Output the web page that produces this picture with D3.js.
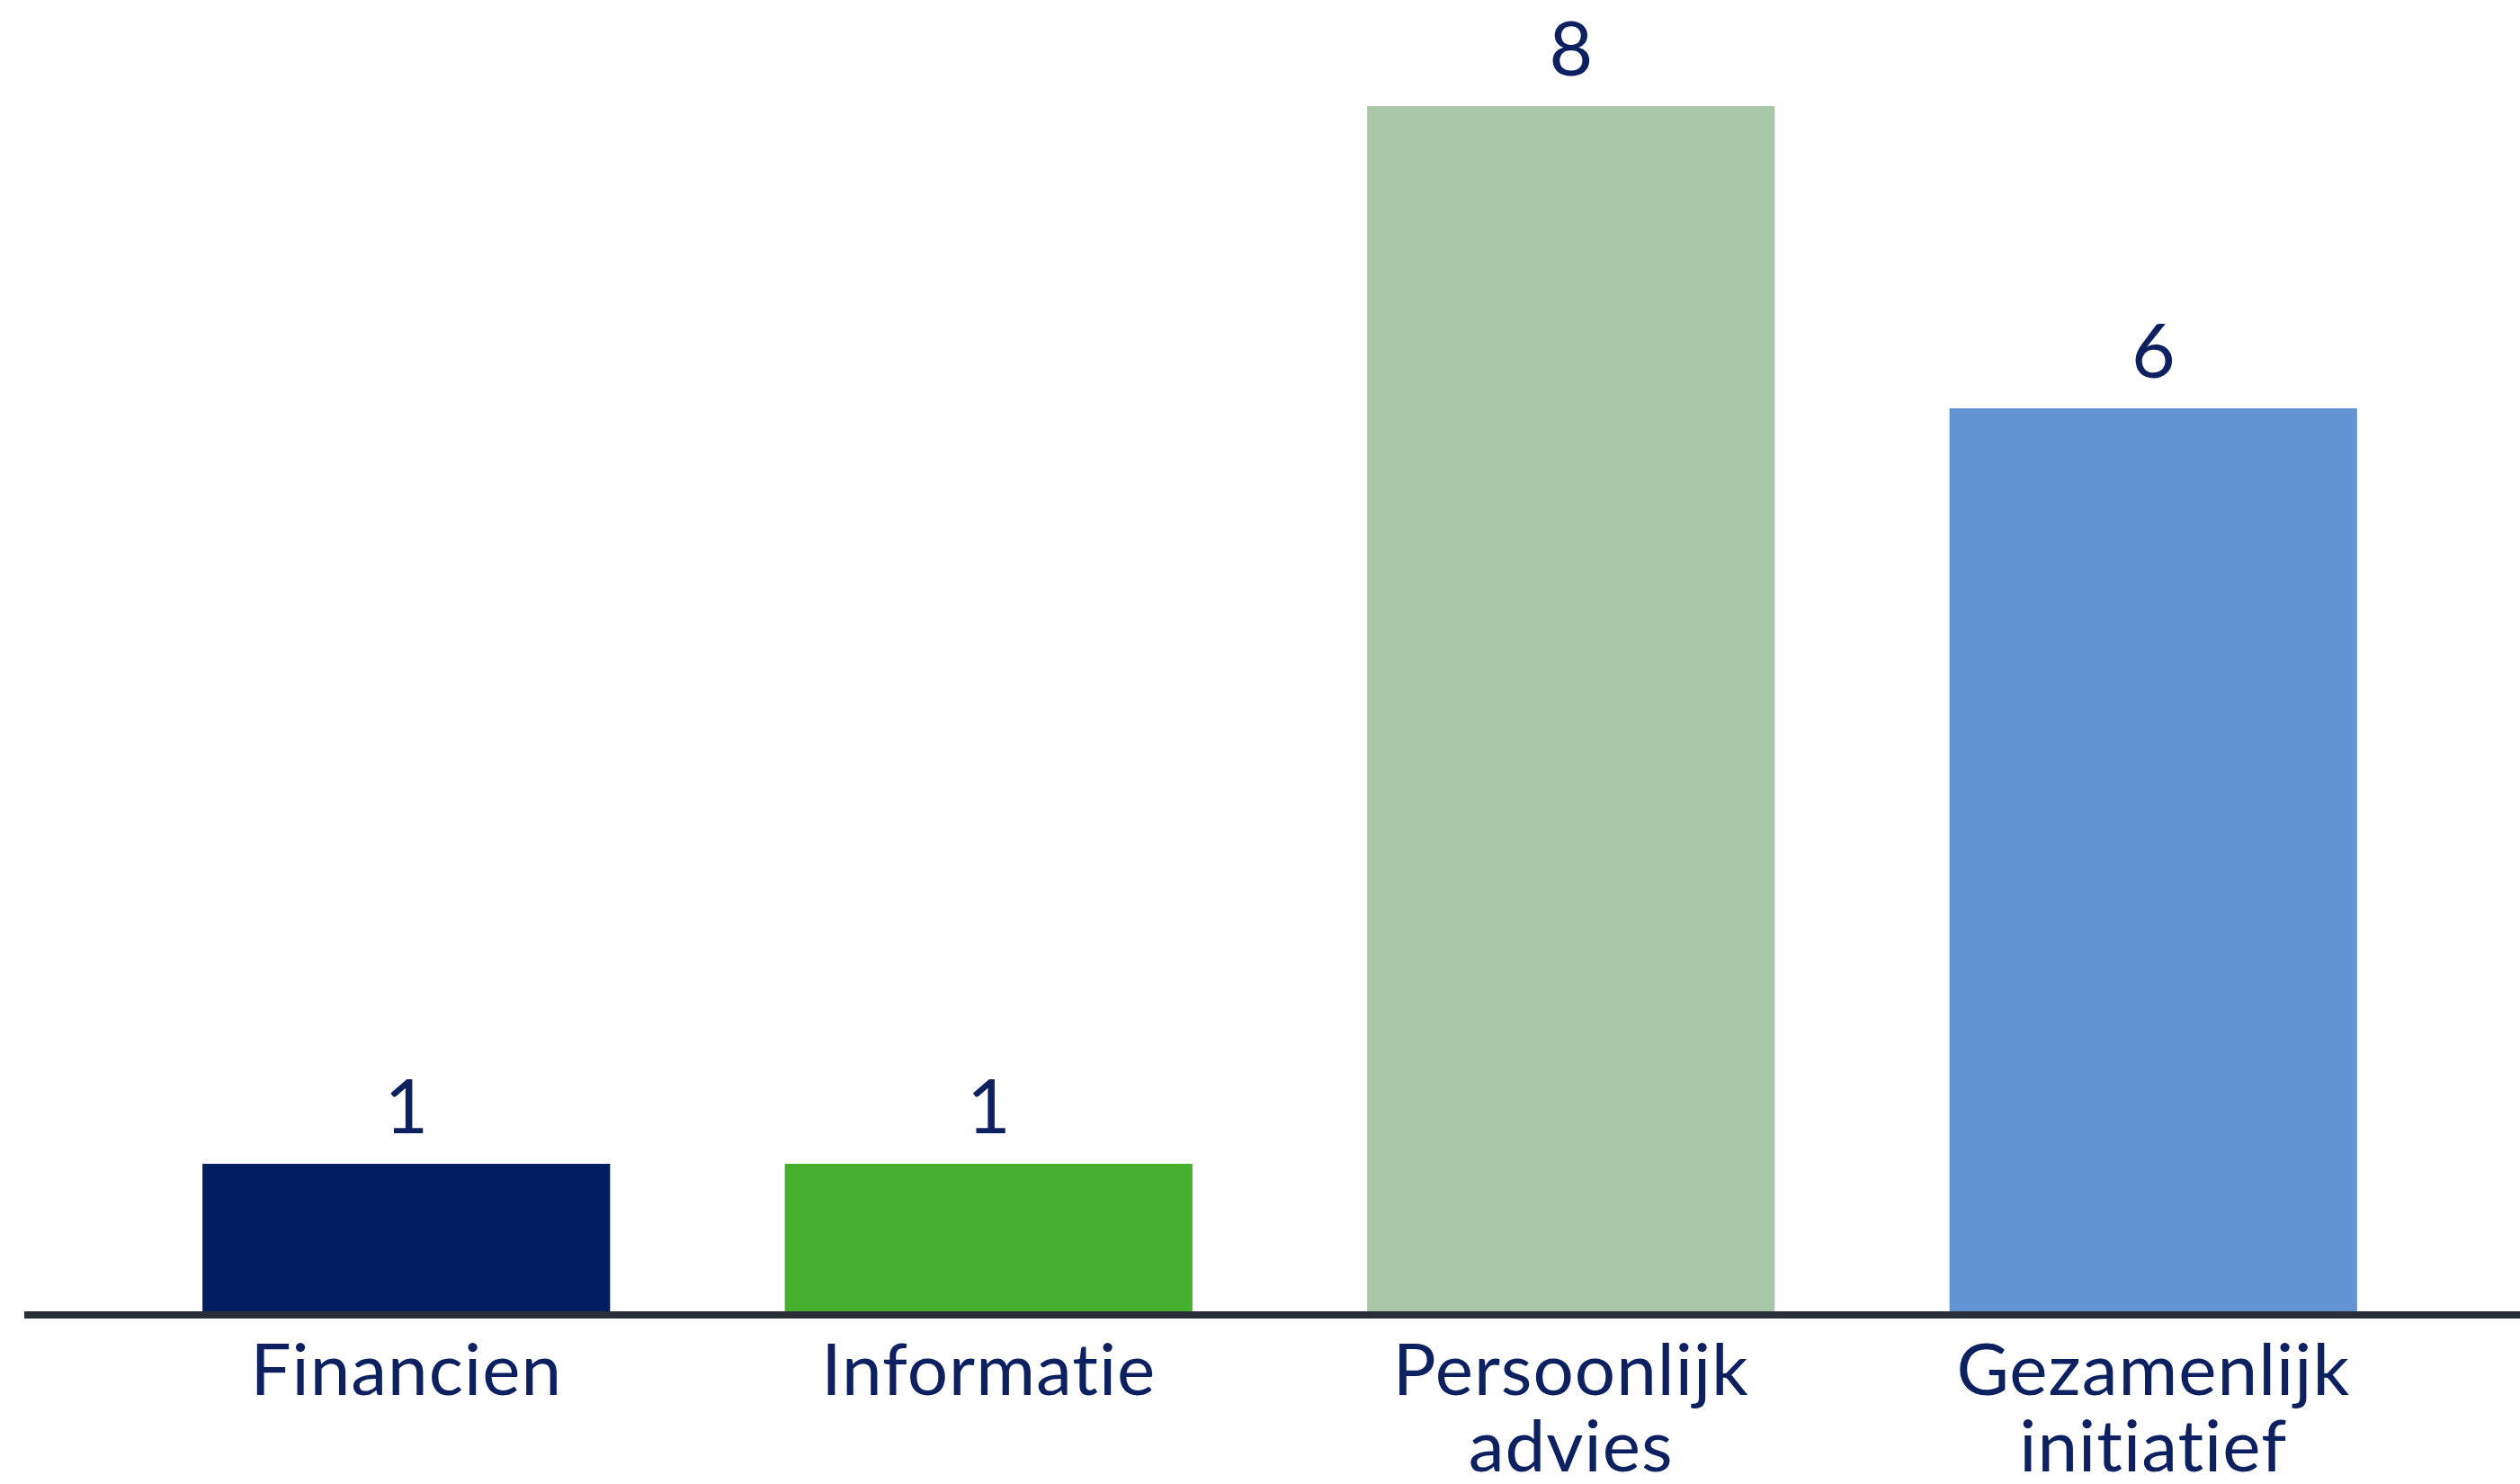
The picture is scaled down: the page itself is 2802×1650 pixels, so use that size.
<!DOCTYPE html>
<html><head><meta charset="utf-8">
<script src="https://cdn.jsdelivr.net/npm/d3@7"></script>
<style>html,body{margin:0;padding:0;background:#fff;}svg{display:block;}text{font-variant-ligatures:none;font-feature-settings:"liga" 0,"clig" 0;}</style>
</head><body>
<script>
const categories = [["Financien"], ["Informatie"], ["Persoonlijk", "advies"], ["Gezamenlijk", "initiatief"]];
const values = [1, 1, 8, 6];
const colors = ["#011e5e", "#45b02c", "#a8c5a8", "#6294d4"];

const W = 2802, H = 1650;
const svg = d3.select("body").append("svg").attr("width", W).attr("height", H);
const keys = categories.map(c => c.join(" "));
const x = d3.scaleBand().domain(keys).range([128, 2718]).paddingInner(0.3).paddingOuter(0.15);
const y = d3.scaleLinear().domain([0, 8]).range([1462, 118]);
const font = "Lato, 'Open Sans', sans-serif";
const textColor = "#0d2160";

svg.selectAll("rect.bar").data(values).join("rect")
  .attr("class", "bar")
  .attr("x", (d, i) => x(keys[i]))
  .attr("width", x.bandwidth())
  .attr("y", d => y(d))
  .attr("height", d => y(0) - y(d))
  .attr("fill", (d, i) => colors[i]);

svg.selectAll("text.val").data(values).join("text")
  .attr("class", "val")
  .attr("x", (d, i) => x(keys[i]) + x.bandwidth() / 2)
  .attr("y", d => y(d) - 34)
  .attr("text-anchor", "middle")
  .attr("font-family", font)
  .attr("font-size", 84)
  .attr("fill", textColor)
  .text(d => d);

svg.append("line")
  .attr("x1", 27).attr("x2", W)
  .attr("y1", y(0)).attr("y2", y(0))
  .attr("stroke", "#2a2e36").attr("stroke-width", 8);

const lab = svg.selectAll("text.cat").data(categories).join("text")
  .attr("class", "cat")
  .attr("text-anchor", "middle")
  .attr("font-family", font)
  .attr("font-size", 80)
  .attr("letter-spacing", 1)
  .attr("fill", textColor);
lab.each(function(lines, i) {
  const t = d3.select(this);
  lines.forEach((l, j) => {
    t.append("tspan")
      .attr("x", x(keys[i]) + x.bandwidth() / 2)
      .attr("y", 1551 + j * 85)
      .text(l);
  });
});
</script>
</body></html>
